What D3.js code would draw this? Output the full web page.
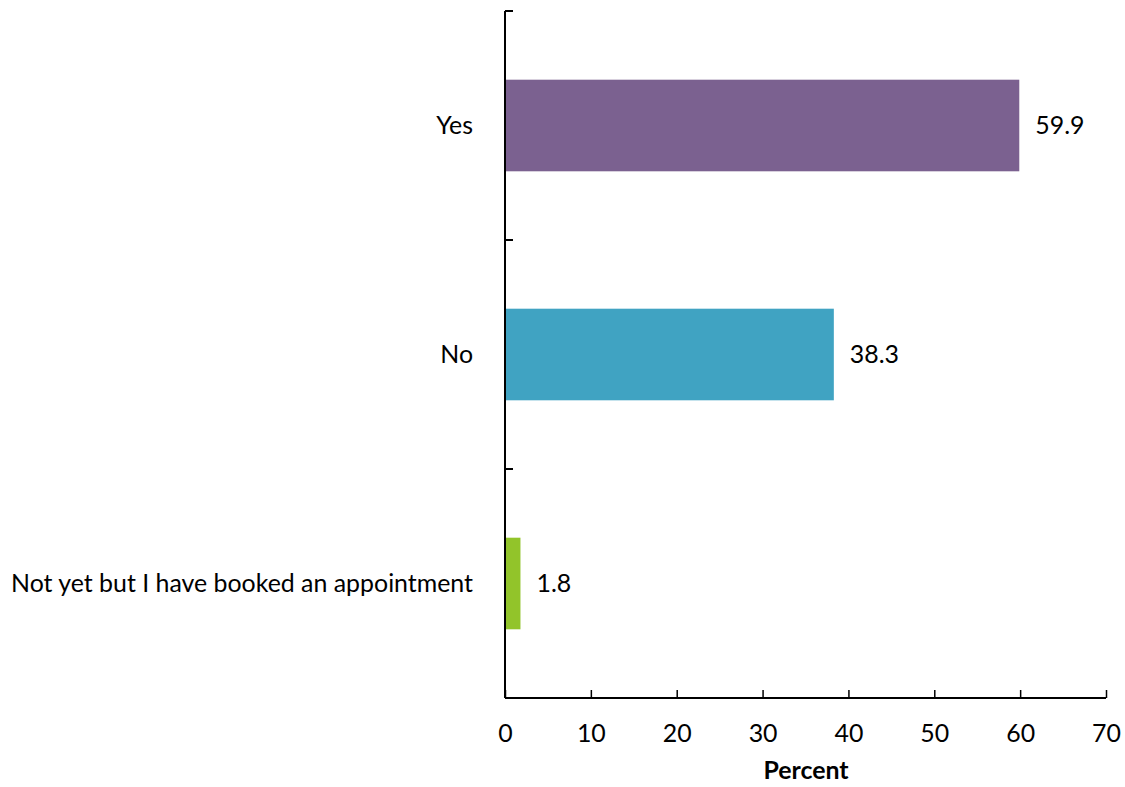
<!DOCTYPE html>
<html><head><meta charset="utf-8">
<script src="https://cdn.jsdelivr.net/npm/d3@7"></script>
<style>body{margin:0;background:#fff}svg{display:block}text{font-family:Lato,"Open Sans",sans-serif;fill:#000}</style>
</head><body><svg id="c" width="1125" height="787"></svg>
<script>
const categories = ["Yes", "No", "Not yet but I have booked an appointment"];
const values = [59.9, 38.3, 1.8];
const colors = ["#7b6190", "#40a3c2", "#92c42a"];
const xTicks = [0, 10, 20, 30, 40, 50, 60, 70];
const xTitle = "Percent";

const svg = d3.select("#c");
const m = {left: 505, right: 1106, top: 11, bottom: 698};
const x = d3.scaleLinear().domain([0, 70]).range([m.left, m.right]);
const y = d3.scaleBand().domain(categories).range([m.top, m.bottom]).paddingInner(0.6).paddingOuter(0.3);
const ff = 'Lato,"Open Sans",sans-serif';

// fit font size so the longest label spans the reference width
const probe = svg.append("text").attr("font-size", 20).text(categories[2]);
const fs = Math.round(20 * 462 / probe.node().getComputedTextLength() * 10) / 10;
probe.remove();

// bars
svg.selectAll("rect.bar").data(values).enter().append("rect")
  .attr("x", x(0)).attr("y", (d, i) => y(categories[i]))
  .attr("width", d => x(d) - x(0)).attr("height", y.bandwidth())
  .attr("fill", (d, i) => colors[i]);

// value labels
svg.selectAll("text.val").data(values).enter().append("text")
  .attr("x", d => x(d) + 16).attr("y", (d, i) => y(categories[i]) + y.bandwidth() / 2)
  .attr("dy", "0.36em").attr("font-size", fs).text(d => d.toFixed(1));

// x axis
const xAxis = d3.axisBottom(x).tickValues(xTicks).tickSize(-8).tickPadding(26).tickFormat(d3.format("d"));
const gx = svg.append("g").attr("transform", `translate(0,${m.bottom})`).call(xAxis);
gx.select(".domain").attr("d", `M${m.left},0H${m.right}`).attr("stroke", "#000").attr("stroke-width", 2);
gx.selectAll(".tick line").attr("stroke", "#000").attr("stroke-width", 1.5);
gx.selectAll(".tick text").attr("font-size", fs).attr("font-family", ff).attr("fill", "#000");

// y axis with boundary ticks
const yb = d3.scaleLinear().domain([0, categories.length]).range([m.top, m.bottom]);
svg.append("line").attr("x1", m.left).attr("x2", m.left).attr("y1", m.top).attr("y2", m.bottom)
  .attr("stroke", "#000").attr("stroke-width", 2);
svg.selectAll("line.yt").data(d3.range(categories.length)).enter().append("line")
  .attr("x1", m.left).attr("x2", m.left + 8).attr("y1", d => yb(d)).attr("y2", d => yb(d))
  .attr("stroke", "#000").attr("stroke-width", 2);
svg.selectAll("text.cat").data(categories).enter().append("text")
  .attr("x", m.left - 32).attr("y", d => y(d) + y.bandwidth() / 2).attr("dy", "0.36em")
  .attr("text-anchor", "end").attr("font-size", fs).text(d => d);

svg.append("text").attr("x", 806).attr("y", 779)
  .attr("text-anchor", "middle").attr("font-size", fs).attr("font-weight", "bold").text(xTitle);
</script></body></html>
